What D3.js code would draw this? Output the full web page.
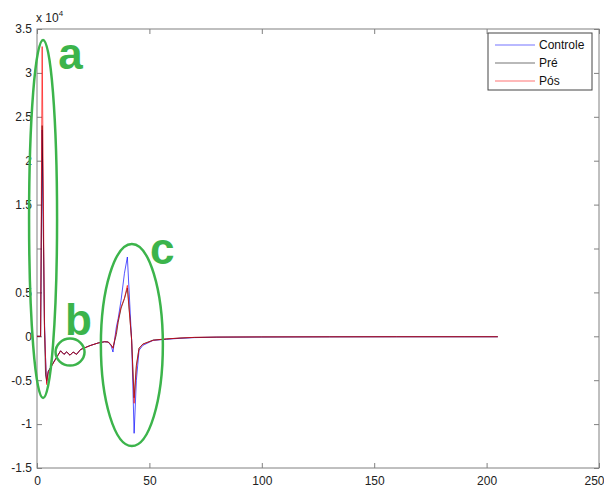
<!DOCTYPE html>
<head>
  <meta charset="utf-8" />
  <script src="https://d3js.org/d3.v7.min.js"></script>
  <style>
    body {
      margin: 0;
      background: white;
    }
    svg text {
      font-family: "Liberation Sans", Arial, sans-serif;
    }
  </style>
</head>

<body>
  <script>
    var width = 604,
      height = 489;

    // valeurs (x = echantillon, y en unites brutes, axe en x 10^4)
    var xs = [0, 1, 1.6, 2.3, 3.3, 3.8, 4.3, 5, 8, 10.5, 12, 13.2, 14.7, 16.1, 17.6, 19.4,
      23.6, 27.2, 30, 31.7, 33, 33.8, 35.3, 36.1, 37.4, 38.9, 40.2, 42.1, 43.2, 44.2,
      45.4, 47.1, 51.7, 57.6, 63.6, 70, 80, 100, 130, 160, 190, 205];

    var controle = [0, 0, 0, 23500, 2000, -2400, -5300, -4000, -2700, -1650, -2050, -1780,
      -2150, -1790, -2050, -1500, -1060, -760, -620, -650, -1100, -1790, 1060, 2010,
      4100, 7180, 9030, -500, -11050, -5000, -1590, -1030, -460, -340, -230, -150, -100,
      -80, -60, -50, -50, -50];

    var pre = [0, 0, 0, 24000, 1200, -4400, -5100, -4000, -2700, -1650, -2050, -1780,
      -2150, -1790, -2050, -1500, -1060, -760, -620, -650, -1000, -1300, 200, 1600,
      3200, 4300, 5500, -400, -7000, -3300, -1350, -880, -430, -300, -200, -130, -90,
      -70, -60, -50, -50, -50];

    var pos = [0, 0, 0, 33000, 1500, -2500, -5500, -4070, -2730, -1670, -2050, -1790,
      -2160, -1790, -2050, -1510, -1060, -760, -620, -650, -1000, -1370, 600, 1820,
      3340, 4330, 5800, -460, -7630, -3500, -1400, -900, -450, -300, -200, -120, -90,
      -70, -60, -50, -50, -50];

    var series = [
      { name: "Controle", values: controle, color: "#0000ff" },
      { name: "Pré", values: pre, color: "#000000" },
      { name: "Pós", values: pos, color: "#ff0000" }
    ];

    var yTicks = [-15000, -10000, -5000, 0, 5000, 10000, 15000, 20000, 25000, 30000, 35000];
    var xTicks = [0, 50, 100, 150, 200, 250];

    // annotations vertes (centre en donnees, rayons en pixels)
    var notes = [
      { label: "a", cx: 2.7, cy: 13360, rx: 14, ry: 179, tx: 9.5, ty: 30500 },
      { label: "b", cx: 14.7, cy: -1800, rx: 14.5, ry: 13.5, tx: 12.5, ty: 200 },
      { label: "c", cx: 42.2, cy: -1000, rx: 31, ry: 101, tx: 50.3, ty: 8200 }
    ];

    var svg = d3
      .select("body")
      .append("svg")
      .attr("width", width)
      .attr("height", height);

    var x = d3.scaleLinear().domain([0, 250]).range([37, 599]);
    var y = d3.scaleLinear().domain([-15000, 35000]).range([468, 29]);

    var axisColor = "#808080";

    // cadre
    svg
      .append("rect")
      .attr("x", x(0))
      .attr("y", y(35000))
      .attr("width", x(250) - x(0))
      .attr("height", y(-15000) - y(35000))
      .attr("fill", "white")
      .attr("stroke", axisColor);

    function styleAxis(g) {
      g.select(".domain").remove();
      g.selectAll(".tick line").attr("stroke", axisColor);
      g.selectAll(".tick text")
        .attr("fill", "#222")
        .style("font-size", "12px");
    }

    var xAxis = svg
      .append("g")
      .attr("transform", "translate(0," + y(-15000) + ")")
      .call(d3.axisBottom(x).tickValues(xTicks).tickSize(-5).tickPadding(8).tickFormat((d) => String(d)))
      .call(styleAxis);
    // le dernier libelle touche le bord droit
    xAxis
      .selectAll(".tick text")
      .filter((d) => d === 250)
      .attr("text-anchor", "end")
      .attr("x", 5);

    svg
      .append("g")
      .attr("transform", "translate(0," + y(35000) + ")")
      .call(d3.axisTop(x).tickValues(xTicks).tickSize(-5).tickFormat(""))
      .call(styleAxis);

    svg
      .append("g")
      .attr("transform", "translate(" + x(0) + ",0)")
      .call(
        d3
          .axisLeft(y)
          .tickValues(yTicks)
          .tickSize(-5)
          .tickPadding(5)
          .tickFormat((d) => (d === 10000 ? "" : String(d / 1e4)))
      )
      .call(styleAxis);

    svg
      .append("g")
      .attr("transform", "translate(" + x(250) + ",0)")
      .call(d3.axisRight(y).tickValues(yTicks).tickSize(-5).tickFormat(""))
      .call(styleAxis);

    // x 10^4
    var mult = svg
      .append("text")
      .attr("x", x(0) - 1)
      .attr("y", y(35000) - 7)
      .attr("fill", "#222")
      .style("font-size", "12px")
      .text("x 10");
    mult.append("tspan").attr("dy", -6).style("font-size", "8px").text("4");

    // courbes
    var line = d3
      .line()
      .x((d, i) => x(xs[i]))
      .y((d) => y(d));

    svg
      .append("g")
      .selectAll("path")
      .data(series)
      .join("path")
      .attr("d", (d) => line(d.values))
      .attr("fill", "none")
      .attr("stroke", (d) => d.color)
      .attr("stroke-opacity", 0.75)
      .attr("stroke-width", 0.9);

    // legende
    var leg = svg.append("g").attr("transform", "translate(488,33)");
    leg
      .append("rect")
      .attr("width", 104)
      .attr("height", 57)
      .attr("fill", "white")
      .attr("stroke", "#444");
    var item = leg
      .selectAll(".item")
      .data(series)
      .join("g")
      .attr("transform", (d, i) => "translate(0," + (12 + i * 18) + ")");
    item
      .append("line")
      .attr("x1", 7)
      .attr("x2", 47)
      .attr("stroke", (d) => d.color)
      .attr("stroke-opacity", 0.55);
    item
      .append("text")
      .attr("x", 51)
      .attr("y", 4)
      .attr("fill", "#111")
      .style("font-size", "12px")
      .text((d) => d.name);

    // annotations
    var green = "#3cb44b";
    svg
      .append("g")
      .selectAll("ellipse")
      .data(notes)
      .join("ellipse")
      .attr("cx", (d) => x(d.cx))
      .attr("cy", (d) => y(d.cy))
      .attr("rx", (d) => d.rx)
      .attr("ry", (d) => d.ry)
      .attr("fill", "none")
      .attr("stroke", green)
      .attr("stroke-width", 2.5);

    svg
      .append("g")
      .selectAll("text")
      .data(notes)
      .join("text")
      .attr("x", (d) => x(d.tx))
      .attr("y", (d) => y(d.ty))
      .attr("fill", green)
      .style("font-size", "44px")
      .style("font-weight", "bold")
      .text((d) => d.label);
  </script>
</body>
